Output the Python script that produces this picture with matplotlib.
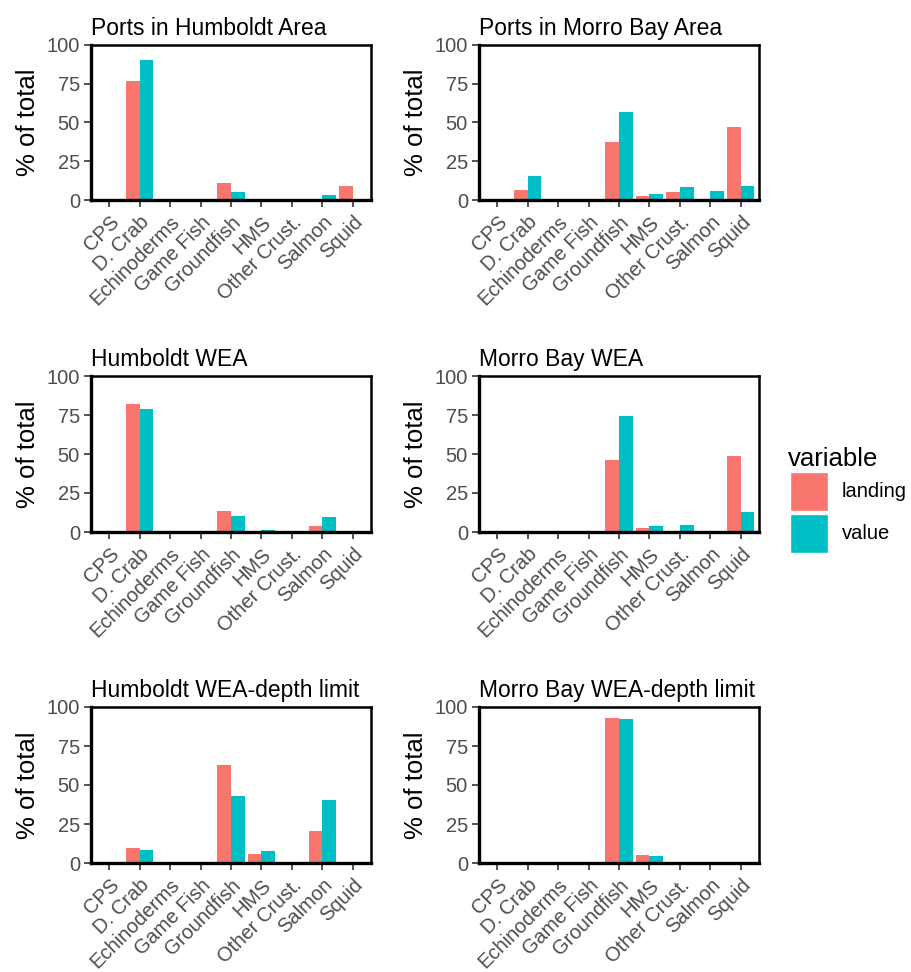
import matplotlib
matplotlib.use("Agg")
import matplotlib.pyplot as plt
import numpy as np
from matplotlib.patches import Rectangle

plt.rcParams['font.family'] = ['Liberation Sans', 'DejaVu Sans']

categories = ["CPS", "D. Crab", "Echinoderms", "Game Fish", "Groundfish",
              "HMS", "Other Crust.", "Salmon", "Squid"]
titles = ["Ports in Humboldt Area", "Ports in Morro Bay Area",
          "Humboldt WEA", "Morro Bay WEA",
          "Humboldt WEA-depth limit", "Morro Bay WEA-depth limit"]
legend_labels = ["landing", "value"]

landing_humboldt_ports = [0, 77, 0, 0, 11.2, 0.3, 0.5, 0.3, 9]
value_humboldt_ports = [0, 90, 0, 0, 5.4, 0.3, 0.2, 3.2, 0.3]
landing_morro_ports = [0, 6.5, 0, 0, 37.2, 2.5, 5, 0.3, 47]
value_morro_ports = [0, 15.7, 0, 0, 57, 3.9, 8.4, 6, 9]
landing_humboldt_wea = [0, 81.8, 0, 0, 13.5, 0.5, 0, 4, 0]
value_humboldt_wea = [0, 78.6, 0, 0, 10.5, 1.5, 0, 9.4, 0]
landing_morro_wea = [0, 0, 0, 0, 46, 2.5, 0.5, 0, 48.7]
value_morro_wea = [0, 0, 0, 0, 74.6, 3.8, 4.5, 0.3, 12.6]
landing_humboldt_depth = [0, 9.8, 0, 0, 62.8, 6, 0, 20.6, 0]
value_humboldt_depth = [0, 8.5, 0, 0, 43, 7.5, 0, 40.2, 0]
landing_morro_depth = [0, 0, 0, 0, 93, 5.1, 0, 0, 0]
value_morro_depth = [0, 0, 0, 0, 92.1, 4.7, 0, 0.5, 0]

series = [(landing_humboldt_ports, value_humboldt_ports),
          (landing_morro_ports, value_morro_ports),
          (landing_humboldt_wea, value_humboldt_wea),
          (landing_morro_wea, value_morro_wea),
          (landing_humboldt_depth, value_humboldt_depth),
          (landing_morro_depth, value_morro_depth)]

yticks = [0, 25, 50, 75, 100]
col_land = "#F8766D"
col_val = "#00BFC4"

W, H = 911, 972
fig = plt.figure(figsize=(W / 100, H / 100), dpi=100)

lefts = [91, 479]
widths = 280
tops = [45, 376, 707]
heights = [155, 156, 156]

x = np.arange(1, len(categories) + 1)
for i, (title, (land, val)) in enumerate(zip(titles, series)):
    r, c = divmod(i, 2)
    l = lefts[c]; t = tops[r]; h = heights[r]
    ax = fig.add_axes([l / W, 1 - (t + h) / H, widths / W, h / H])
    ax.bar(x - 0.225, land, width=0.45, color=col_land, linewidth=0)
    ax.bar(x + 0.225, val, width=0.45, color=col_val, linewidth=0)
    ax.set_xlim(0.4, 9.6)
    ax.set_ylim(0, 100)
    ax.set_yticks(yticks)
    ax.set_yticklabels([str(v) for v in yticks])
    ax.set_xticks(x)
    ax.set_xticklabels(categories, rotation=45, ha='right', rotation_mode='anchor')
    ax.tick_params(axis='both', colors='#333333', labelcolor='#4D4D4D',
                   length=5, width=1.2, labelsize=14.5, pad=3)
    ax.tick_params(axis='x', pad=4)
    for s in ax.spines.values():
        s.set_linewidth(1.8)
        s.set_color('black')
    ax.spines['left'].set_linewidth(2.4)
    ax.spines['bottom'].set_linewidth(2.4)
    ax.set_ylabel("% of total", fontsize=18.5, color='black', labelpad=5)
    ax.set_title(title, fontsize=16.5, loc='left', color='black', pad=7)

# legend (ggplot-style, drawn in figure pixel coordinates)
def fx(px):
    return px / W

def fy(py):
    return 1 - py / H

fig.text(fx(788), fy(459), "variable", fontsize=18.5, ha='left', va='center',
         color='black')
key_cols = [col_land, col_val]
key_tops = [472, 514]
for lab, colr, kt in zip(legend_labels, key_cols, key_tops):
    fig.add_artist(Rectangle((fx(790), fy(kt + 39)), 38 / W, 39 / H,
                             transform=fig.transFigure, facecolor=colr,
                             edgecolor='white', linewidth=1))
    fig.text(fx(842), fy(kt + 19.5), lab, fontsize=14.5, ha='left',
             va='center', color='black')

fig.savefig("out.png", dpi=100)
